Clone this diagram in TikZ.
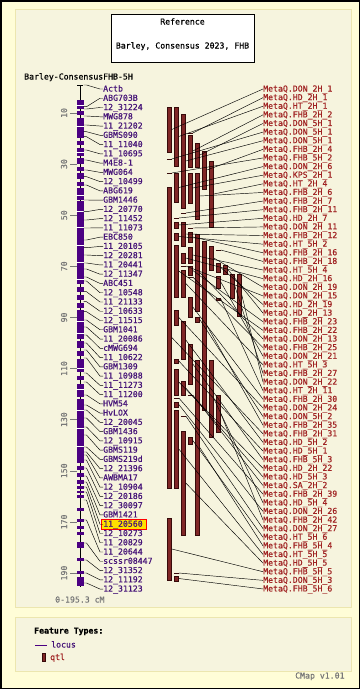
\documentclass[tikz,border=0pt]{standalone}
\usepackage{fontspec}
\newfontfamily\pix[FakeBold=0.6]{DejaVu Sans Mono}
\usetikzlibrary{calc}
\definecolor{outerbg}{RGB}{255,253,215}
\definecolor{panelbg}{RGB}{246,244,222}
\definecolor{panelbd}{RGB}{236,230,175}
\definecolor{locus}{RGB}{75,0,130}
\definecolor{mtext}{RGB}{70,20,120}
\definecolor{qfill}{RGB}{128,38,38}
\definecolor{qdraw}{RGB}{55,10,10}
\definecolor{qtext}{RGB}{160,35,35}
\definecolor{scalegray}{RGB}{120,120,120}
\definecolor{hilite}{RGB}{255,225,0}
\tikzset{
  txt/.style={inner sep=0pt, text height=6pt, text depth=1pt},
  mlabel/.style={txt, anchor=west, text=mtext},
  qlabel/.style={txt, anchor=west, text=qtext},
  qbar/.style={fill=qfill, draw=qdraw, line width=0.6pt},
  qdash/.style={draw=qdraw, line width=0.8pt},
  conn/.style={draw=black, line width=0.45pt},
  panel/.style={fill=panelbg, draw=panelbd, line width=1pt},
}
\begin{document}
\begin{tikzpicture}[x=1pt,y=-1pt,font={\pix\fontsize{8.2pt}{9pt}\selectfont}]
\useasboundingbox (0,0) rectangle (360,689);
\fill[outerbg] (0,0) rectangle (360,689);
\draw[black, line width=1.5pt] (0.75,0.75) rectangle (359.25,688.25);
\draw[panel] (15,9.5) rectangle (351,607);
\draw[panel] (15,617) rectangle (351,671);

% title box
\draw[fill=white, draw=black, line width=0.8pt] (111,14) rectangle (254,62);
\node[txt] (reftitle) at (182.5,22) {Reference};
\node[txt] (refname) at (182.5,46) {Barley, Consensus 2023, FHB};
\node[txt, anchor=west] (maptitle) at (24,77) {Barley-ConsensusFHB-5H};

% chromosome
\draw[black, line width=1pt] (80,85) -- (80,587);
\draw[black, line width=0.8pt] (77,85) -- (83,85);
\foreach \a/\b in {100/109,111/115,118/138,141/145,148/156,158/164,167/171,173/179,182/186,188/200,201/284,287/292,295/300,303/308,310/339,341/348,351/356,359/372,376/380,384/397,399/463,466/470,473/477,480/484,486/489,491/493,495/498,508/511,519/522,526/529,532/535,542/548,558/561,571/574,577/586}
  \fill[locus] (76.5,\a) rectangle (83.5,\b);
\foreach \y in {105,126,152,195,211,227,245,262,279,321,333,368,389,410,428,446}
  \draw[white, line width=0.5pt] (76,\y) -- (84,\y);

% scale
\foreach \v in {10,30,...,190} {
  \draw[scalegray, line width=0.6pt] (70,{87.4+2.556*\v}) -- (77,{87.4+2.556*\v});
  \node[txt, rotate=90, text=scalegray] (scale\v) at (64.5,{87.4+2.556*\v}) {\v};
}
\node[txt, anchor=west, text=scalegray] (range) at (55,600) {0-195.3 cM};

% highlight
\draw[fill=hilite, draw=red, line width=0.8pt] (101.5,519) rectangle (146.5,529.5);

% marker labels
\foreach \n [count=\i] in {Actb,ABG703B,12\_31224,MWG878,11\_21202,GBMS090,11\_11040,11\_10695,M4E8-1,MWG064,12\_10499,ABG619,GBM1446,12\_20770,12\_11452,11\_11073,EBC850,11\_20105,12\_20281,11\_20441,12\_11347,ABC451,12\_10548,11\_21133,12\_10633,12\_11515,GBM1041,11\_20086,cMWG694,11\_10622,GBM1309,11\_10988,11\_11273,11\_11200,HVM54,HvLOX,12\_20045,GBM1436,12\_10915,GBMS119,GBMS219d,12\_21396,AWBMA17,12\_10904,12\_20186,12\_30097,GBM1421,11\_20560,12\_10273,11\_20829,11\_20644,scssr08447,12\_31352,12\_11192,12\_31123}
  \node[mlabel] (m\i) at (103,{89+(\i-1)*9.26}) {\n};
\foreach \cy [count=\i] in {85,106.7,109,116,125,131.7,136.7,150,160,170,176.7,185,200,211.7,220,228,240,247.7,255,263,269,277,281,291.7,301.7,311.7,320,327,335,343,350,358,373,382,395,405,410,418,427,435,447,452,455,460,468,476,482,487,492,500,520,543,560,573,583} {
  \coordinate (c\i) at (83.5,\cy);
  \draw[conn] (c\i) -- ++(3,0) -- ($(m\i.west)+(-3,0)$) -- (m\i.west);
}

% QTL bars
\foreach \c/\a/\b in {0/107/152,0/187/488,0/518/580,1/107/166,1/173/202,1/222/228,1/233/240,1/245/297,1/310/325,1/359/363,1/369/395,1/402/407,1/410/488,1/576/581,2/114/208,2/222/246,2/253/263,2/270/297,2/321/359,2/381/395,2/431/535,3/135/167,3/173/203,3/232/242,3/247/263,3/266/275,3/297/317,3/344/384,3/437/444,4/143/167,4/173/219,4/234/311,4/317/322,4/360/535,5/151/189,5/241/410,6/161/227,6/246/270,6/360/437,7/263/272,7/276/288,7/298/300,7/395/432,8/265/274,9/274/298,10/274/316}
  \draw[qbar] ({169.3+7*\c-2},\a) rectangle ({169.3+7*\c+2},\b);
\foreach \c/\y in {3/133,0/159,0/173,2/213,1/218,3/228,7/250,2/266,3/277,3/395,1/398,2/416,1/573}
  \draw[qdash] ({169.3+7*\c-2.5},\y) -- ({169.3+7*\c+2.5},\y);

% QTL labels
\foreach \n [count=\i] in {DON\_2H\_1,HD\_2H\_1,HT\_2H\_1,FHB\_2H\_2,DON\_5H\_1,DON\_5H\_1,DON\_5H\_1,FHB\_2H\_4,FHB\_5H\_2,DON\_2H\_6,KPS\_2H\_1,HT\_2H\_4,FHB\_2H\_6,FHB\_2H\_7,FHB\_2H\_11,HD\_2H\_7,DON\_2H\_11,FHB\_2H\_12,HT\_5H\_2,FHB\_2H\_16,FHB\_2H\_18,HT\_5H\_4,HD\_2H\_16,DON\_2H\_19,DON\_2H\_15,HD\_2H\_19,HD\_2H\_13,FHB\_2H\_23,FHB\_2H\_22,DON\_2H\_13,FHB\_2H\_25,DON\_2H\_21,HT\_5H\_3,FHB\_2H\_27,DON\_2H\_22,HT\_2H\_11,FHB\_2H\_30,DON\_2H\_24,DON\_5H\_2,FHB\_2H\_35,FHB\_2H\_31,HD\_5H\_2,HD\_5H\_1,FHB\_5H\_3,HD\_2H\_22,HD\_5H\_3,SA\_2H\_2,FHB\_2H\_39,HD\_5H\_4,DON\_2H\_26,FHB\_2H\_42,DON\_2H\_27,HT\_5H\_6,FHB\_5H\_4,HT\_5H\_5,HD\_5H\_5,FHB\_5H\_5,DON\_5H\_3,FHB\_5H\_6}
  \node[qlabel] (q\i) at (263,{89+(\i-1)*8.62}) {MetaQ.\n};

% QTL connectors
\foreach \c/\y [count=\i] in {0/129.5,3/133,1/136.5,3/151,4/155,0/159,2/161,5/170,0/173,1/187.5,3/188,6/194,4/196,2/213,1/218,1/225,3/228,2/234,1/236.5,3/237,7/250,3/255,2/258,6/258,2/266,7/267.5,8/269.5,3/270.5,1/271,4/272.5,3/277,7/282,2/283.5,9/286,10/295,7/299,3/307,1/317.5,4/319.5,5/325.5,0/337.5,2/340,1/361,3/364,1/382,2/388,3/395,1/398,6/398.5,1/404.5,7/413.5,2/416,3/440.5,4/447.5,1/449,2/483,0/549,1/573,1/578.5} {
  \coordinate (f\i) at ({169.3+7*\c+2.5},\y);
  \draw[conn] (f\i) -- (q\i.west);
}

% legend
\node[txt, anchor=west, font={\pix\bfseries\fontsize{8.2pt}{9pt}\selectfont}] (ftypes) at (34,631) {Feature Types:};
\coordinate (lega) at (35,645);
\coordinate (legb) at (47,645);
\draw[locus, line width=1pt] (lega) -- (legb);
\node[mlabel] (leglocus) at (51,645) {locus};
\draw[qbar] (42.5,653.5) rectangle (45.5,661);
\node[qlabel] (legqtl) at (50,657.5) {qtl};
\node[txt, anchor=west, text=scalegray] (cmap) at (295,676) {CMap v1.01};
\end{tikzpicture}
\end{document}
